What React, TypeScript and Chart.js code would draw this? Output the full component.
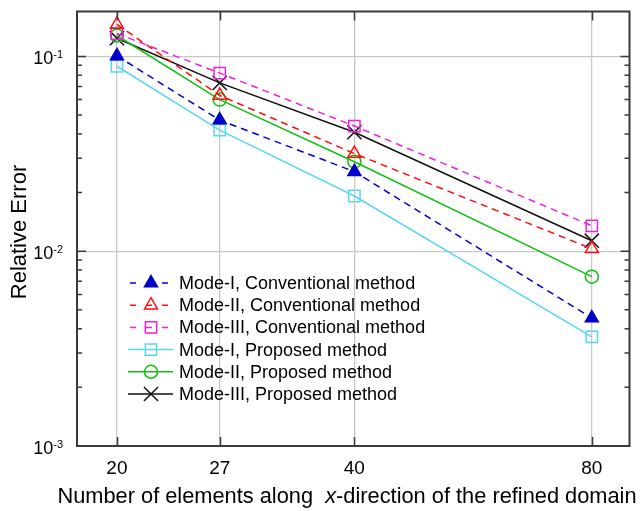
import React, { useEffect, useRef } from "react";
import { Chart, registerables } from "chart.js";
import { drawPoint } from "chart.js/helpers";

Chart.register(...registerables);

// Number of elements along x-direction
const elements = [20, 27, 40, 80];

// Relative errors
const modeIConventional = [0.1006, 0.0471, 0.0256, 0.00454];
const modeIIConventional = [0.146, 0.063, 0.0317, 0.0103];
const modeIIIConventional = [0.131, 0.0821, 0.0439, 0.0135];
const modeIProposed = [0.089, 0.0418, 0.0192, 0.00363];
const modeIIProposed = [0.128, 0.0600, 0.0288, 0.0074];
const modeIIIProposed = [0.124, 0.0731, 0.0408, 0.01132];

const seriesLabels = [
  "Mode-I, Conventional method",
  "Mode-II, Conventional method",
  "Mode-III, Conventional method",
  "Mode-I, Proposed method",
  "Mode-II, Proposed method",
  "Mode-III, Proposed method",
];

const xTickValues = [20, 27, 40, 80];
const yDecades = [0.001, 0.01, 0.1];
const yDecadeExponents = [-3, -2, -1];
const yMinorMultipliers = [2, 3, 4, 5, 6, 7, 8, 9];

const X_MIN = 17.8;
const X_MAX = 89.3;
const Y_MIN = 0.001;
const Y_MAX = 0.17;

const FONT = "'Liberation Sans', Arial, Helvetica, sans-serif";
const FRAME = "#3a3a3a";
const GRID = "#c8c8c8";

const toPoints = (ys: number[]) => elements.map((x, i) => ({ x, y: ys[i] }));

const styles = [
  { color: "#0000c8", dash: [7, 5], pointStyle: "triangle", radius: 7.5, fill: "#0000c8" },
  { color: "#ff1010", dash: [7, 5], pointStyle: "triangle", radius: 7.5, fill: "transparent" },
  { color: "#f020e0", dash: [7, 5], pointStyle: "rect", radius: 8, fill: "transparent" },
  { color: "#5ad6f0", dash: [], pointStyle: "rect", radius: 8, fill: "transparent" },
  { color: "#10c010", dash: [], pointStyle: "circle", radius: 6.5, fill: "transparent" },
  { color: "#111111", dash: [], pointStyle: "crossRot", radius: 10, fill: "transparent" },
];

const seriesValues = [
  modeIConventional,
  modeIIConventional,
  modeIIIConventional,
  modeIProposed,
  modeIIProposed,
  modeIIIProposed,
];

const isDecade = (v: number) => yDecades.some((d) => Math.abs(v - d) / d < 1e-6);

const decorations = {
  id: "decorations",
  afterDraw(chart: any) {
    const { ctx, chartArea: a, scales } = chart;
    const x = scales.x;
    const y = scales.y;
    ctx.save();

    // ticks pointing inward
    ctx.strokeStyle = FRAME;
    ctx.lineWidth = 1.5;
    ctx.setLineDash([]);
    ctx.beginPath();
    xTickValues.forEach((v) => {
      const px = Math.round(x.getPixelForValue(v)) + 0.5;
      ctx.moveTo(px, a.bottom);
      ctx.lineTo(px, a.bottom - 9);
      ctx.moveTo(px, a.top);
      ctx.lineTo(px, a.top + 9);
    });
    yDecades.forEach((v) => {
      const py = y.getPixelForValue(v);
      ctx.moveTo(a.left, py);
      ctx.lineTo(a.left + 9, py);
      ctx.moveTo(a.right, py);
      ctx.lineTo(a.right - 9, py);
    });
    yDecades.forEach((d) => {
      yMinorMultipliers.forEach((m) => {
        const v = d * m;
        if (v > Y_MAX) return;
        const py = y.getPixelForValue(v);
        ctx.moveTo(a.left, py);
        ctx.lineTo(a.left + 5, py);
        ctx.moveTo(a.right, py);
        ctx.lineTo(a.right - 5, py);
      });
    });
    ctx.stroke();

    // frame
    ctx.lineWidth = 2;
    ctx.strokeRect(a.left, a.top, a.right - a.left, a.bottom - a.top);

    ctx.fillStyle = "#000";

    // x tick labels
    ctx.font = `19px ${FONT}`;
    ctx.textAlign = "center";
    ctx.textBaseline = "alphabetic";
    xTickValues.forEach((v) => {
      ctx.fillText(String(v), x.getPixelForValue(v), a.bottom + 28);
    });

    // y tick labels: 10 with superscript exponent
    yDecades.forEach((v, i) => {
      const py = y.getPixelForValue(v);
      const sup = String(yDecadeExponents[i]);
      ctx.font = `11px ${FONT}`;
      const supW = ctx.measureText(sup).width;
      ctx.font = `18px ${FONT}`;
      const baseW = ctx.measureText("10").width;
      const right = a.left - 14;
      ctx.textAlign = "left";
      ctx.fillText("10", right - supW - baseW, py + 8);
      ctx.font = `11px ${FONT}`;
      ctx.fillText(sup, right - supW, py + 2);
    });

    // y axis title
    ctx.save();
    ctx.font = `22px ${FONT}`;
    ctx.textAlign = "center";
    ctx.translate(26, 232);
    ctx.rotate(-Math.PI / 2);
    ctx.fillText("Relative Error", 0, 0);
    ctx.restore();

    // x axis title with italic x
    const parts = [
      { t: "Number of elements along  ", f: `21.8px ${FONT}` },
      { t: "x", f: `italic 21.8px ${FONT}` },
      { t: "-direction of the refined domain", f: `21.8px ${FONT}` },
    ];
    let total = 0;
    parts.forEach((p) => {
      ctx.font = p.f;
      total += ctx.measureText(p.t).width;
    });
    let cx = 347 - total / 2;
    ctx.textAlign = "left";
    parts.forEach((p) => {
      ctx.font = p.f;
      ctx.fillText(p.t, cx, 503);
      cx += ctx.measureText(p.t).width;
    });

    // legend
    const ly0 = 283;
    const step = 22.2;
    const markerX = 151;
    chart.data.datasets.forEach((ds: any, i: number) => {
      const ly = ly0 + i * step;
      const dashed = ds.borderDash && ds.borderDash.length > 0;
      ctx.strokeStyle = ds.borderColor;
      ctx.lineWidth = 1.5;
      ctx.setLineDash(dashed ? [6, 10] : []);
      ctx.beginPath();
      ctx.moveTo(dashed ? 130 : 128, ly);
      ctx.lineTo(dashed ? 168 : 173, ly);
      ctx.stroke();
      ctx.setLineDash([]);
      ctx.fillStyle = ds.pointBackgroundColor;
      ctx.strokeStyle = ds.pointBorderColor;
      ctx.lineWidth = ds.pointBorderWidth;
      drawPoint(
        ctx,
        { pointStyle: ds.pointStyle, radius: ds.pointRadius, rotation: 0, borderWidth: ds.pointBorderWidth },
        markerX,
        ly
      );
      ctx.fillStyle = "#000";
      ctx.font = `18px ${FONT}`;
      ctx.textAlign = "left";
      ctx.textBaseline = "middle";
      ctx.fillText(ds.label, 179, ly + 1);
      ctx.textBaseline = "alphabetic";
    });

    ctx.restore();
  },
};

export default function App() {
  const canvasRef = useRef<HTMLCanvasElement | null>(null);

  useEffect(() => {
    const canvas = canvasRef.current;
    if (!canvas) return;

    const datasets = seriesValues.map((vals, i) => {
      const s = styles[i];
      return {
        label: seriesLabels[i],
        data: toPoints(vals),
        borderColor: s.color,
        borderWidth: 1.5,
        borderDash: s.dash,
        pointStyle: s.pointStyle,
        pointRadius: s.radius,
        pointBackgroundColor: s.fill,
        pointBorderColor: s.color,
        pointBorderWidth: 1.5,
        tension: 0,
        fill: false,
      };
    });

    const chart = new Chart(canvas, {
      type: "line",
      data: { datasets },
      options: {
        animation: false,
        responsive: false,
        devicePixelRatio: 1,
        layout: { padding: { left: 77, right: 11, top: 10, bottom: 65 } },
        plugins: { legend: { display: false }, tooltip: { enabled: false } },
        scales: {
          x: {
            type: "logarithmic",
            min: X_MIN,
            max: X_MAX,
            bounds: "data",
            ticks: { display: false },
            border: { display: false },
            grid: { drawTicks: false, color: GRID, lineWidth: 1.3 },
            afterBuildTicks: (s: any) => {
              s.ticks = xTickValues.map((v) => ({ value: v }));
            },
            afterFit: (s: any) => {
              s.height = 0;
            },
          },
          y: {
            type: "logarithmic",
            min: Y_MIN,
            max: Y_MAX,
            bounds: "data",
            ticks: { display: false },
            border: { display: false },
            grid: {
              drawTicks: false,
              lineWidth: 1.3,
              color: (c: any) => (c.tick && isDecade(c.tick.value) ? GRID : "rgba(0,0,0,0)"),
            },
            afterBuildTicks: (s: any) => {
              s.ticks = yDecades.map((v) => ({ value: v }));
            },
            afterFit: (s: any) => {
              s.width = 0;
            },
          },
        },
      } as any,
      plugins: [decorations],
    });

    return () => chart.destroy();
  }, []);

  return (
    <div style={{ position: "fixed", left: 0, top: 0, width: 641, height: 511, background: "#fff" }}>
      <canvas ref={canvasRef} width={641} height={511} style={{ display: "block" }} />
    </div>
  );
}
